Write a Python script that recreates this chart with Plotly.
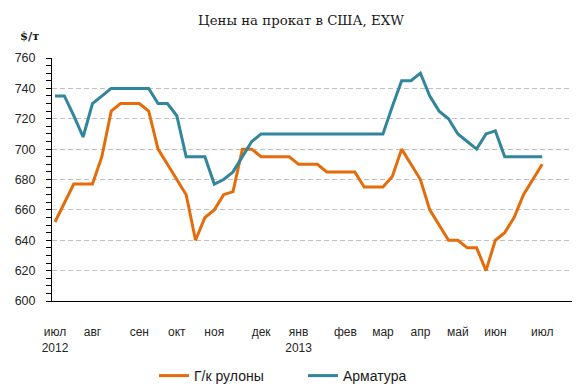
import plotly.graph_objects as go
import pandas as pd

# weekly observation dates (categories)
dates = pd.date_range("2012-07-05", periods=53, freq="7D")
categories = dates.strftime("%Y-%m-%d").tolist()

hot_rolled = [652, 665, 677, 677, 677, 695, 725, 730, 730, 730, 725, 700, 690, 680,
              670, 640, 655, 660, 670, 672, 700, 700, 695, 695, 695, 695, 690, 690,
              690, 685, 685, 685, 685, 675, 675, 675, 682, 700, 690, 680, 660, 650,
              640, 640, 635, 635, 620, 640, 645, 655, 670, 680, 690]

rebar = [735, 735, 722, 708, 730, 735, 740, 740, 740, 740, 740, 730, 730, 722,
         695, 695, 695, 677, 680, 685, 695, 705, 710, 710, 710, 710, 710, 710,
         710, 710, 710, 710, 710, 710, 710, 710, 728, 745, 745, 750, 735, 725,
         720, 710, 705, 700, 710, 712, 695, 695, 695, 695, 695]

# category positions that carry a month label, and their labels
tick_index = [0, 4, 9, 13, 17, 22, 26, 31, 35, 39, 43, 47, 52]
tick_labels = ["июл<br>2012", "авг", "сен", "окт", "ноя", "дек", "янв<br>2013",
               "фев", "мар", "апр", "май", "июн", "июл"]

series_names = ["Г/к рулоны", "Арматура"]
colors = ["#E46C0A", "#31859C"]

fig = go.Figure()
for name, vals, col in zip(series_names, [hot_rolled, rebar], colors):
    fig.add_trace(go.Scatter(x=categories, y=vals, mode="lines", name=name,
                             line=dict(color=col, width=3)))

fig.update_layout(
    width=578, height=389,
    margin=dict(l=52, r=6, t=58, b=88, autoexpand=False),
    paper_bgcolor="white", plot_bgcolor="white",
    showlegend=True,
    title=dict(text="Цены на прокат в США, EXW", x=301 / 578, xanchor="center",
               y=1 - 20 / 389, yanchor="middle",
               font=dict(family="DejaVu Serif", size=13.3, color="#1a1a1a")),
    legend=dict(orientation="h", xref="container", yref="container",
                x=303 / 578, xanchor="center", y=1 - 376 / 389, yanchor="middle",
                font=dict(family="Liberation Sans", size=14, color="#1a1a1a"),
                itemwidth=30, entrywidth=104, bgcolor="rgba(0,0,0,0)"),
    annotations=[dict(text="<b>$/т</b>", x=(29 - 52) / 520, xref="paper",
                      y=(301 - 36) / 242.7, yref="paper",
                      showarrow=False, xanchor="center", yanchor="middle",
                      font=dict(family="DejaVu Serif", size=11.5, color="#1a1a1a"))],
)

fig.update_xaxes(type="category", range=[-0.32, 55.18], automargin=False,
                 tickmode="array", tickvals=[categories[i] for i in tick_index],
                 ticktext=tick_labels,
                 showgrid=False, showline=True, linecolor="black", linewidth=1,
                 ticks="", ticklabelstandoff=20, zeroline=False,
                 tickfont=dict(family="Liberation Sans", size=12, color="#262626"))

fig.update_yaxes(range=[600, 760], dtick=20, tick0=600, automargin=False,
                 showgrid=True, gridcolor="#BFBFBF", griddash="5px,3px", gridwidth=1,
                 showline=True, linecolor="black", linewidth=1,
                 ticks="outside", ticklen=5, tickcolor="black",
                 minor=dict(dtick=5, tick0=600, ticks="outside", ticklen=5,
                            tickcolor="black", showgrid=False),
                 zeroline=False, ticklabelstandoff=8,
                 tickfont=dict(family="Liberation Sans", size=12.5, color="#262626"))

fig.write_html("out.html",
               config={"displayModeBar": False},
               post_script="document.body.style.margin='0';"
                           "document.body.style.padding='0';")
